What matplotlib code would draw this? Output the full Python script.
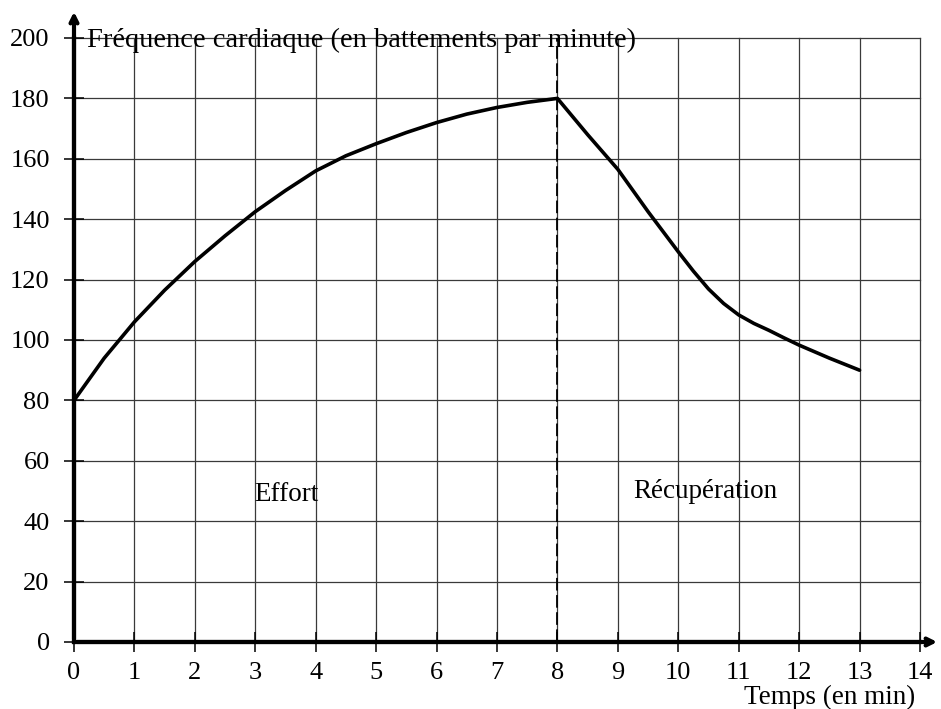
import matplotlib
matplotlib.use("Agg")
import matplotlib.pyplot as plt

# Data
temps = [0, 0.5, 1, 1.5, 2, 2.5, 3, 3.5, 4, 4.5, 5, 5.5, 6, 6.5, 7, 7.5, 8,
         8.5, 9, 9.5, 10, 10.25, 10.5, 10.75, 11, 11.25, 11.5, 11.75, 12, 12.5, 13]
frequence = [80, 94, 106, 116.5, 126, 134.5, 142.5, 149.5, 156, 161, 165, 168.7, 172, 174.8, 177, 178.7, 180,
             168, 156.5, 142.5, 129.2, 122.8, 116.9, 112.1, 108.3, 105.5, 103.2, 100.7, 98.3, 94, 90]
x_ticks = list(range(0, 15))
y_ticks = list(range(0, 201, 20))
separation = 8
ylabel = "Fréquence cardiaque (en battements par minute)"
xlabel = "Temps (en min)"
zone_labels = ["Effort", "Récupération"]
zone_pos = [(2.98, 49), (9.25, 50)]

plt.rcParams['font.family'] = ['Liberation Serif', 'DejaVu Serif']
FS_TICK = 19
FS_TEXT = 19.5

fig = plt.figure(figsize=(9.41, 7.09), dpi=100)
ax = fig.add_axes([74/941, 1-642/709, (920-74)/941, (642-38)/709])
ax.set_xlim(0, 14)
ax.set_ylim(0, 200)

for x in x_ticks:
    ax.axvline(x, color='#3a3a3a', lw=0.9, zorder=1, clip_on=False)
for y in y_ticks:
    ax.axhline(y, color='#3a3a3a', lw=0.9, zorder=1, clip_on=False)

ax.plot([separation, separation], [0, 200], color='black', lw=1.3, ls=(0, (7, 2.5)), zorder=2)
ax.plot(temps, frequence, color='black', lw=2.6, zorder=3,
        solid_joinstyle='round', solid_capstyle='round')

for s in ['top', 'right']:
    ax.spines[s].set_visible(False)
for s in ['left', 'bottom']:
    ax.spines[s].set_linewidth(3)
    ax.spines[s].set_zorder(4)

ax.set_xticks(x_ticks)
ax.set_yticks(y_ticks)
ax.tick_params(axis='both', direction='inout', length=15, width=1.1, labelsize=FS_TICK, color='black')
ax.tick_params(axis='x', pad=7)
ax.tick_params(axis='y', pad=10)

# arrows
ax.annotate('', xy=(940/941, 1-642/709), xycoords='figure fraction',
            xytext=(74/941, 1-642/709), textcoords='figure fraction',
            arrowprops=dict(arrowstyle='->,head_length=0.5,head_width=0.25', lw=3, color='black'))
ax.annotate('', xy=(74/941, 1-9/709), xycoords='figure fraction',
            xytext=(74/941, 1-642/709), textcoords='figure fraction',
            arrowprops=dict(arrowstyle='->,head_length=0.5,head_width=0.25', lw=3, color='black'))

fig.text(87/941, 1-40/709, ylabel, fontsize=20.5, ha='left', va='center')
fig.text(915/941, 1-697/709, xlabel, fontsize=FS_TEXT, ha='right', va='center')

for lab, (x, y) in zip(zone_labels, zone_pos):
    ax.text(x, y, lab, fontsize=FS_TEXT, ha='left', va='center', zorder=5)

fig.savefig("out.png", dpi=100)
